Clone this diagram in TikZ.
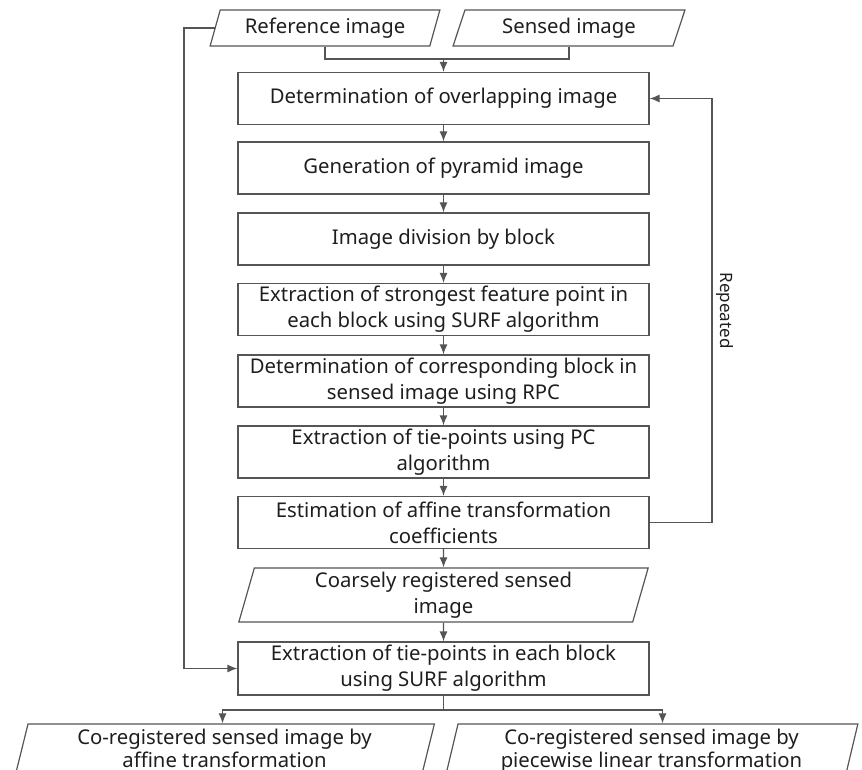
\documentclass[tikz,border=0pt]{standalone}
\usepackage{fontspec}
\setmainfont{Noto Sans}
\usepackage{tikz}
\usetikzlibrary{shapes,arrows,arrows.meta,positioning}

\definecolor{linegray}{HTML}{555555}
\definecolor{txtgray}{HTML}{1E1E1E}

\tikzset{
    proc/.style={draw=linegray, line width=1.2pt, minimum width=411, minimum height=52,
        align=center, inner sep=2pt, text=txtgray, font=\fontsize{20.3}{26}\selectfont},
    dataio/.style={draw=linegray, line width=1.2pt, trapezium, trapezium left angle=#1,
        trapezium right angle=180-#1, trapezium stretches=true, align=center,
        inner sep=2pt, text=txtgray, font=\fontsize{20.3}{26}\selectfont},
    flow/.style={draw=linegray, line width=1.2pt, >={Latex[length=10pt,width=8pt]}}
}

\begin{document}
\begin{tikzpicture}[x=1pt, y=-1pt]
    \useasboundingbox (0,0) rectangle (862,770);

    % Input images
    \node[dataio=72, minimum width=230, minimum height=36] (ref) at (325,28) {Reference image};
    \node[dataio=72, minimum width=232, minimum height=36] (sensed) at (569,28) {Sensed image};

    % Coarse registration steps
    \node[proc] (overlap) at (443.5,98.5) {Determination of overlapping image};
    \node[proc] (pyramid) at (443.5,168) {Generation of pyramid image};
    \node[proc] (division) at (443.5,239) {Image division by block};
    \node[proc] (strongest) at (443.5,309.5) {Extraction of strongest feature point in\\each block using SURF algorithm};
    \node[proc] (corresp) at (443.5,381) {Determination of corresponding block in\\sensed image using RPC};
    \node[proc] (tiepc) at (443.5,452) {Extraction of tie-points using PC\\algorithm};
    \node[proc] (affine) at (443.5,522.5) {Estimation of affine transformation\\coefficients};
    \node[dataio=78, minimum width=411, minimum height=54] (coarse) at (443.5,595) {Coarsely registered sensed\\image};

    % Fine registration
    \node[proc, minimum height=53] (tiesurf) at (443.5,668.5) {Extraction of tie-points in each block\\using SURF algorithm};
    \node[dataio=78, minimum width=421, minimum height=54, font=\fontsize{20.3}{24}\selectfont] (outaff) at (224.5,751) {\raisebox{5pt}{\shortstack{Co-registered sensed image by\\affine transformation}}};
    \node[dataio=78, minimum width=413, minimum height=54, font=\fontsize{20.3}{24}\selectfont] (outpw) at (651.5,751) {\raisebox{5pt}{\shortstack{Co-registered sensed image by\\piecewise linear transformation}}};

    % Helper points
    \coordinate (join) at (443.5,59);
    \coordinate (split) at (443.5,710);
    \coordinate (lft) at (184,0);
    \coordinate (rgt) at (712,0);

    % Connectors
    \draw[flow] (ref.south) |- (join) -| (sensed.south);
    \draw[flow,->] (join) -- (overlap.north);
    \draw[flow,->] (overlap) -- (pyramid);
    \draw[flow,->] (pyramid) -- (division);
    \draw[flow,->] (division) -- (strongest);
    \draw[flow,->] (strongest) -- (corresp);
    \draw[flow,->] (corresp) -- (tiepc);
    \draw[flow,->] (tiepc) -- (affine);
    \draw[flow,->] (affine) -- (coarse);
    \draw[flow,->] (coarse) -- (tiesurf);

    % Loop back
    \draw[flow,->] (affine.east) -- (affine.east -| rgt) |- node[pos=0.25, rotate=-90, anchor=south, text=txtgray, font=\fontsize{17}{20}\selectfont] {Repeated} (overlap.east);

    % Reference image to fine matching
    \draw[flow,->] (ref.west) -- (ref.west -| lft) |- (tiesurf.west);

    % Outputs
    \draw[flow] (tiesurf.south) -- (split);
    \draw[flow,->] (split) -| ([xshift=-2]outaff.north);
    \draw[flow,->] (split) -| ([xshift=11]outpw.north);
\end{tikzpicture}
\end{document}
